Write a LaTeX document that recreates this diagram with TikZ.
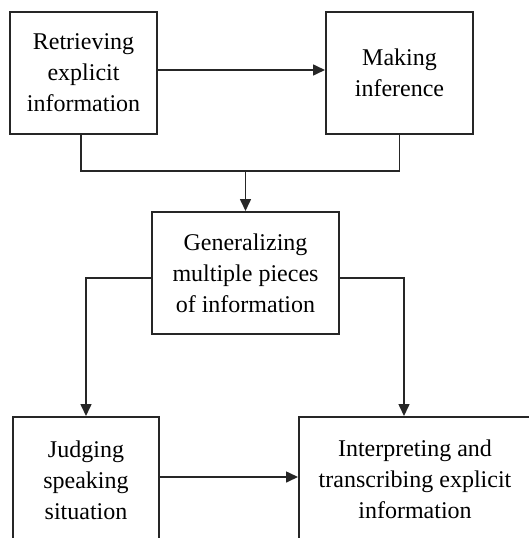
\documentclass[tikz,border=0pt]{standalone}
\usepackage{fontspec}
\setmainfont{Liberation Serif}
\usetikzlibrary{arrows.meta}
\begin{document}
\begin{tikzpicture}[x=1pt,y=-1pt,
  box/.style={draw=black!85,line width=2pt,align=center,inner sep=0pt,
    font=\fontsize{24}{31}\selectfont},
  conn/.style={draw=black!85,line width=1.6pt},
  arr/.style={conn,-{Triangle[length=12pt,width=11pt]}}]
\useasboundingbox (0,0) rectangle (529,538);
\clip (0,0) rectangle (529,538);
\node[box,minimum width=147pt,minimum height=122pt] (r) at (83.5,73) {Retrieving\\explicit\\information};
\node[box,minimum width=147pt,minimum height=122pt] (m) at (399.5,73) {Making\\inference};
\node[box,minimum width=187pt,minimum height=122pt] (g) at (245.5,273) {Generalizing\\multiple pieces\\of information};
\node[box,minimum width=146pt,minimum height=126pt] (j) at (86,480) {Judging\\speaking\\situation};
\node[box,minimum width=260pt,minimum height=126pt] (i) at (429,480) {};
\node[align=center,inner sep=0pt,font=\fontsize{24}{31}\selectfont] (it) at (415,479) {Interpreting and\\transcribing explicit\\information};
\coordinate (jL) at (81,171);
\coordinate (jR) at (399.5,171);
\coordinate (jM) at (245.5,171);
\coordinate (iR) at (404,278);
\draw[arr] ([yshift=3pt]r.east) -- ([yshift=3pt]m.west);
\draw[conn] ([xshift=-2.5pt]r.south) -- (jL) -- (jR) -- (m.south);
\draw[arr] (jM) -- (g.north);
\draw[arr] ([yshift=-5pt]g.west) -| (j.north);
\draw[arr] ([yshift=-5pt]g.east) -- (iR) -- (iR |- i.north);
\draw[arr] ([yshift=3pt]j.east) -- ([yshift=3pt]j.east -| i.west);
\end{tikzpicture}
\end{document}
